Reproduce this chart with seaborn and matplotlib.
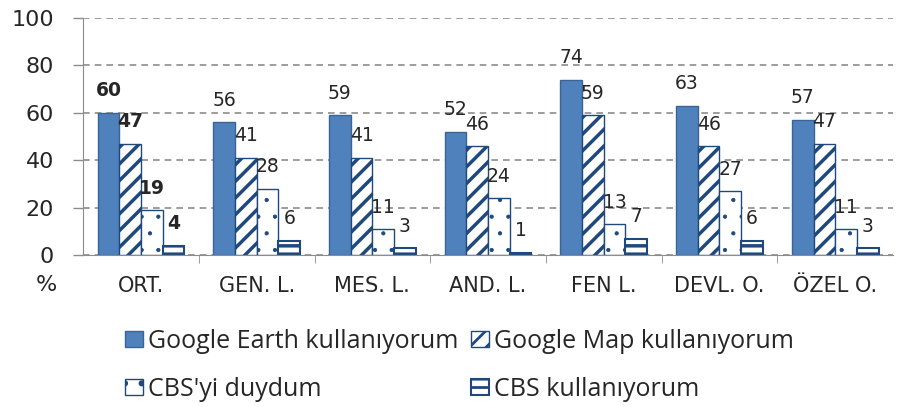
import matplotlib
matplotlib.use("Agg")
import matplotlib.pyplot as plt
import seaborn as sns
import pandas as pd

categories = ["ORT.", "GEN. L.", "MES. L.", "AND. L.", "FEN L.", "DEVL. O.", "ÖZEL O."]
series = ["Google Earth kullanıyorum", "Google Map kullanıyorum",
          "CBS'yi duydum", "CBS kullanıyorum"]
earth = [60, 56, 59, 52, 74, 63, 57]
gmap = [47, 41, 41, 46, 59, 46, 47]
duydum = [19, 28, 11, 24, 13, 27, 11]
cbs = [4, 6, 3, 1, 7, 6, 3]

rows = []
for s, vals in zip(series, [earth, gmap, duydum, cbs]):
    for c, v in zip(categories, vals):
        rows.append({"okul": c, "seri": s, "deger": v})
df = pd.DataFrame(rows)

sns.set_style("white")
plt.rcParams["font.family"] = ["DejaVu Sans"]
plt.rcParams["hatch.linewidth"] = 2.0

fig = plt.figure(figsize=(9.03, 4.07), dpi=100)
ax = fig.add_axes([0.092, 0.373, 0.897, 0.583])

sns.barplot(data=df, x="okul", y="deger", hue="seri", order=categories,
            hue_order=series, width=0.75, ax=ax, legend=False)

styles = [
    dict(facecolor="#4F81BD", edgecolor="#3A6496", hatch=None, lw=1.0, hlw=1.0),
    dict(facecolor="white", edgecolor="#1F497D", hatch="//", lw=1.0, hlw=2.5),
    dict(facecolor="white", edgecolor="#1F497D", hatch=".", lw=1.0, hlw=0.6),
    dict(facecolor="white", edgecolor="#1F497D", hatch="--", lw=1.5, hlw=2.5),
]
for cont, st in zip(ax.containers, styles):
    for p in cont:
        p.set_facecolor(st["facecolor"])
        p.set_edgecolor(st["edgecolor"])
        p.set_linewidth(st["lw"])
        if st["hatch"]:
            p.set_hatch(st["hatch"])
            if hasattr(p, "set_hatch_linewidth"):
                p.set_hatch_linewidth(st["hlw"])
    texts = ax.bar_label(cont, padding=9, fontsize=13.5)
    texts[0].set_fontweight("bold")

ax.set_ylim(0, 100)
ax.set_yticks(range(0, 101, 20))
ax.set_xlim(-0.5, len(categories) - 0.5)
ax.yaxis.grid(True, color="#8C8C8C", linestyle=(0, (4, 3)), linewidth=1.2)
ax.set_axisbelow(True)
ax.set_xlabel("")
ax.set_ylabel("")
for side in ["top", "right"]:
    ax.spines[side].set_visible(False)
for side in ["left", "bottom"]:
    ax.spines[side].set_color("#8C8C8C")
ax.tick_params(axis="y", labelsize=16, length=7, width=1, color="#8C8C8C", left=True, pad=14)
ax.tick_params(axis="x", labelsize=15, length=0, pad=15)
ax.set_xticks([i + 0.5 for i in range(len(categories) - 1)], minor=True)
ax.tick_params(axis="x", which="minor", length=6, color="#8C8C8C", bottom=True)

fig.text(46 / 903, 1 - 285 / 407, "%", fontsize=16, ha="center", va="center")

handles = list(ax.containers[i][0] for i in range(4))
order = [0, 2, 1, 3]
leg = fig.legend([handles[i] for i in order], [series[i] for i in order],
                 ncol=2, loc="upper left", bbox_to_anchor=(125 / 903, 1 - 329 / 407),
                 frameon=False, handlelength=0.72, handleheight=0.6, handletextpad=0.2,
                 columnspacing=0.5, labelspacing=0.9, borderpad=0, borderaxespad=0,
                 prop={"family": "Open Sans", "size": 18})

fig.savefig("out.png", dpi=100)
